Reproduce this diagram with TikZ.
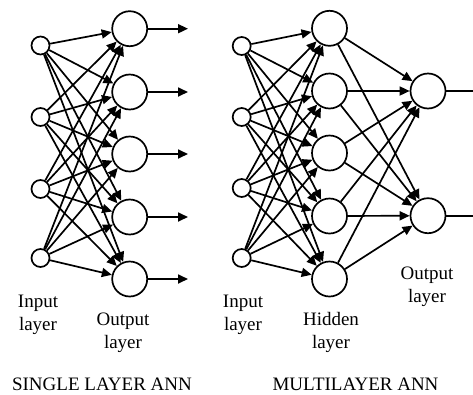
\documentclass[tikz,border=0pt]{standalone}
\usepackage{fontspec}
\setmainfont{Liberation Serif}
\usetikzlibrary{arrows.meta}
\begin{document}
\begin{tikzpicture}[x=1pt,y=-1pt,
  innode/.style={circle,draw,line width=1.7pt,minimum size=18pt,inner sep=0pt},
  bignode/.style={circle,draw,line width=1.7pt,minimum size=35pt,inner sep=0pt},
  conn/.style={line width=1.7pt,-{Triangle[length=10pt,width=9pt]}},
  plainconn/.style={line width=1.7pt},
  lbl/.style={align=center,font=\fontsize{19}{23}\selectfont,inner sep=0pt},
  ttl/.style={font=\fontsize{19}{23}\selectfont,inner sep=0pt}]
\useasboundingbox (0,0) rectangle (473,394);
% single layer
\foreach \i/\y in {1/45.5,2/117,3/189,4/258}
  \node[innode] (si\i) at (40.5,\y) {};
\foreach \j/\y in {1/28.7,2/92,3/154,4/217,5/279}
  \node[bignode] (so\j) at (129.7,\y) {};
\foreach \j/\y in {1/28.7,2/92,3/154,4/217,5/279}
  \coordinate (se\j) at (188,\y);
\foreach \i in {1,...,4}
  \foreach \j in {1,...,5}
    \draw[conn] (si\i) -- (so\j);
\foreach \j in {1,...,5}
  \draw[conn] (so\j) -- (se\j);
% multilayer
\foreach \i/\y in {1/46,2/117,3/188,4/258}
  \node[innode] (mi\i) at (241.7,\y) {};
\foreach \j/\y in {1/28.3,2/91,3/153,4/216,5/279}
  \node[bignode] (mh\j) at (329.5,\y) {};
\foreach \k/\y in {1/91,2/215.7}
  \node[bignode] (mo\k) at (428,\y) {};
\foreach \k/\y in {1/91,2/215.7}
  \coordinate (me\k) at (473,\y);
\foreach \i in {1,...,4}
  \foreach \j in {1,...,5}
    \draw[conn] (mi\i) -- (mh\j);
\foreach \j in {1,...,5}
  \foreach \k in {1,2}
    \draw[conn] (mh\j) -- (mo\k);
\foreach \k in {1,2}
  \draw[plainconn] (mo\k) -- (me\k);
% labels
\node[lbl] (l1) at (38,315) {Input\\layer};
\node[lbl] (l2) at (123,333) {Output\\layer};
\node[ttl] (t1) at (102,384) {SINGLE LAYER ANN};
\node[lbl] (l3) at (243,315) {Input\\layer};
\node[lbl] (l4) at (331,332) {Hidden\\layer};
\node[lbl] (l5) at (427,287) {Output\\layer};
\node[ttl] (t2) at (355.5,384) {MULTILAYER ANN};
\end{tikzpicture}
\end{document}
